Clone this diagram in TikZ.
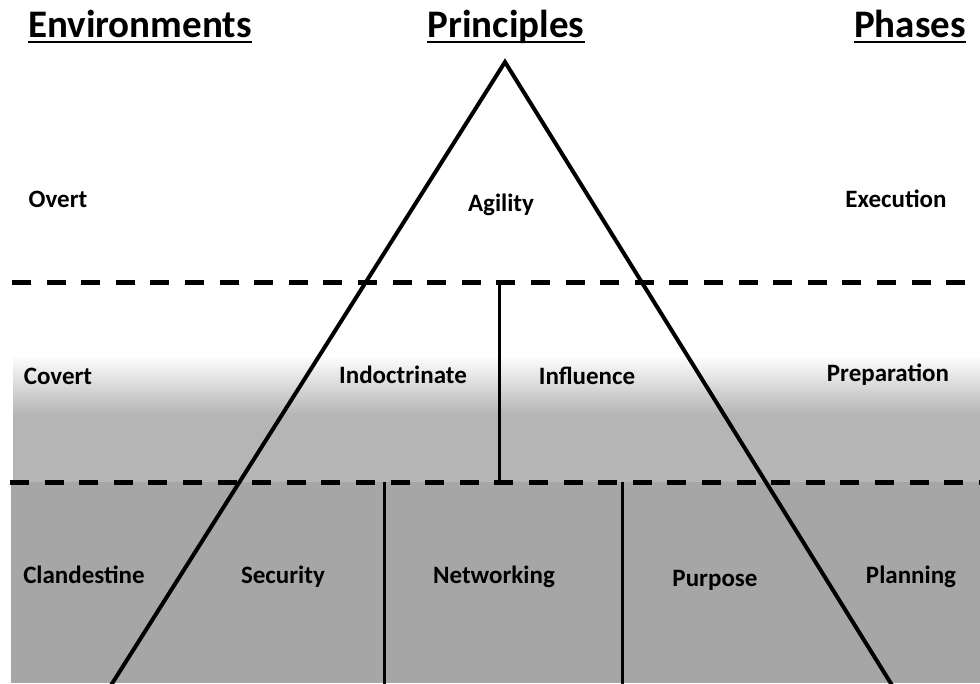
\documentclass[tikz,border=0pt]{standalone}
\usepackage{fontspec}
\setmainfont{Carlito}
\usetikzlibrary{calc}

\definecolor{midgray}{gray}{0.71}
\definecolor{lowgray}{gray}{0.65}

\tikzset{
    heading/.style={font=\fontsize{39}{44}\selectfont\bfseries, inner sep=0pt, anchor=base},
    underbar/.style={line width=2.8pt},
    cell/.style={font=\fontsize{25}{30}\selectfont\bfseries, inner sep=0pt, anchor=base},
    divider/.style={line width=5pt, dash pattern=on 19pt off 15.6pt},
    side/.style={line width=4pt, line join=miter},
    wall/.style={line width=3pt},
}

\begin{document}
\begin{tikzpicture}[x=1pt,y=-1pt]
    \useasboundingbox (0,0) rectangle (980,683);

    % Shaded bands
    \shade[top color=white, bottom color=midgray] (13,355) rectangle (980,415);
    \fill[midgray] (13,414) rectangle (980,482);
    \fill[lowgray] (11,482) rectangle (980,683);

    % Headings with underline
    \foreach \name/\x/\txt in {envs/140/Environments, princ/506/Principles, phases/910/Phases} {
        \node[heading] (\name) at (\x,37) {\txt};
        \draw[underbar] ($(\name.base west)+(0,5)$) -- ($(\name.base east)+(0,5)$);
    }

    % Dashed dividers
    \coordinate (topL) at (12,282);
    \coordinate (topR) at (985,282);
    \coordinate (lowL) at (10,482);
    \coordinate (lowR) at (985,482);
    \draw[divider] (topL) -- (topR);
    \draw[divider] (lowL) -- (lowR);

    % Walls inside the triangle
    \coordinate (midTop) at (499,282);
    \coordinate (midBot) at (499,482);
    \draw[wall] (midTop) -- (midBot);
    \coordinate (wallA) at (384,482);
    \coordinate (wallAb) at (384,690);
    \coordinate (wallB) at (622,482);
    \coordinate (wallBb) at (622,690);
    \draw[wall] (wallA) -- (wallAb);
    \draw[wall] (wallB) -- (wallBb);

    % Triangle
    \coordinate (apex) at (505,62);
    \coordinate (baseL) at (108,690);
    \coordinate (baseR) at (895,690);
    \draw[side] (baseL) -- (apex) -- (baseR);

    % Labels
    \foreach \name/\x/\y/\txt in {
        overt/58/207/Overt, agility/501/211/Agility, execution/896/207/Execution,
        covert/58/384/Covert, indoc/403/383/Indoctrinate, influence/587/384/Influence,
        prep/888/381/Preparation,
        clan/84/583/Clandestine, security/283/583/Security, network/494/583/Networking,
        purpose/715/586/Purpose, planning/911/583/Planning} {
        \node[cell] (\name) at (\x,\y) {\txt};
    }

\end{tikzpicture}
\end{document}
